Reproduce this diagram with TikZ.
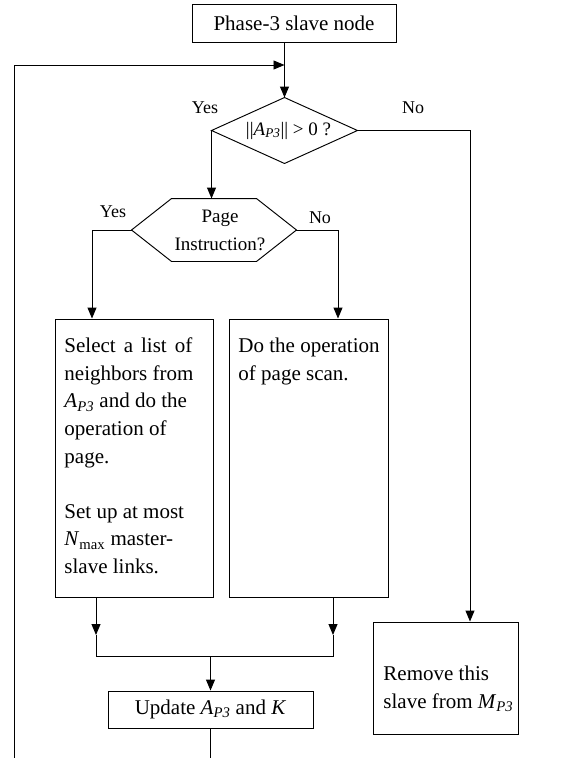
\documentclass[tikz,border=0pt]{standalone}
\usepackage{fontspec}
\setmainfont{Liberation Serif}
\usetikzlibrary{arrows.meta}
\begin{document}
\begin{tikzpicture}[x=1pt,y=-1pt,
  line width=0.95pt,
  arr/.style={-{Triangle[length=11pt,width=9pt]}},
  procbox/.style={draw, rectangle, inner sep=0pt},
  hidden/.style={rectangle, inner sep=0pt},
  body/.style={font=\fontsize{21}{27.6}\selectfont},
  ask/.style={font=\fontsize{19}{28}\selectfont},
  lbl/.style={font=\fontsize{18}{20}\selectfont, inner sep=0pt},
  txt/.style={body, anchor=north west, align=left, inner sep=0pt}
]
\useasboundingbox (0,0) rectangle (584,758);

% start block
\node[procbox, body, minimum width=204pt, minimum height=38pt] (top) at (294,23) {Phase-3 slave node};

% decision ||A_P3|| > 0 ?
\node[hidden, ask, minimum width=145pt, minimum height=65pt] (dec) at (284.5,130.5)
  {\hspace*{8pt}||\textit{A}\textsubscript{\textit{P3}}|| {>} 0 ?};
\draw (dec.north) -- (dec.east) -- (dec.south) -- (dec.west) -- cycle;

% decision: page instruction
\node[hidden, ask, align=center, minimum width=164pt, minimum height=62pt] (hex) at (214,230)
  {\hspace*{12pt}Page\\\hspace*{12pt}Instruction?};
\draw (hex.west) -- ([xshift=40pt]hex.north west) -- ([xshift=-40pt]hex.north east)
  -- (hex.east) -- ([xshift=-40pt]hex.south east) -- ([xshift=40pt]hex.south west) -- cycle;

% process blocks
\node[procbox, minimum width=158pt, minimum height=278pt] (b1) at (134,458) {};
\node[txt] (t1) at (64,337.5) {Select\hspace{8pt}a\hspace{8pt}list\hspace{8pt}of\\neighbors from\\\textit{A}\textsubscript{\textit{P3}} and do the\\operation of\\page.\\[27.6pt]Set up at most\\\textit{N}\textsubscript{max} master-\\slave links.};

\node[procbox, minimum width=159pt, minimum height=278pt] (b2) at (308.5,458) {};
\node[txt] (t2) at (238,337.5) {Do the operation\\of page scan.};

\node[procbox, minimum width=145pt, minimum height=112pt] (rem) at (445.5,678) {};
\node[txt] (t3) at (383,665.5) {Remove this\\slave from \textit{M}\textsubscript{\textit{P3}}};

\node[procbox, body, minimum width=205pt, minimum height=37pt] (upd) at (210.5,709.5)
  {Update \textit{A}\textsubscript{\textit{P3}} and \textit{K}};

% branch labels
\node[lbl] (y1) at (205,108) {Yes};
\node[lbl] (n1) at (413,108) {No};
\node[lbl] (y2) at (113,212) {Yes};
\node[lbl] (n2) at (320,218) {No};

% helper points
\coordinate (fbin) at (dec.north |- 0,65);
\coordinate (fbout) at (14,762);
\coordinate (m1) at (96,635);
\coordinate (m2) at (333,635);
\coordinate (j1) at (96,656);
\coordinate (j2) at (333,656);
\coordinate (jm) at (upd.north |- 0,657);

% connectors
\draw[arr] (top.south -| dec.north) -- (dec.north);
\draw[arr] (dec.west) -- (dec.west |- hex.north);
\draw[arr] (dec.east) -| ([xshift=24.5pt]rem.north);
\draw[arr] (hex.west) -| ([xshift=-42pt]b1.north);
\draw[arr] (hex.east) -| ([xshift=29.5pt]b2.north);
\draw[arr] (b1.south -| m1) -- (m1);
\draw[arr] (b2.south -| m2) -- (m2);
\draw (m1) -- (j1) -- (j2) -- (m2);
\draw[arr] (jm) -- (upd.north);
\draw (upd.south) -- (upd.south |- fbout);
\draw[arr] (fbout) |- (fbin);
\end{tikzpicture}
\end{document}
